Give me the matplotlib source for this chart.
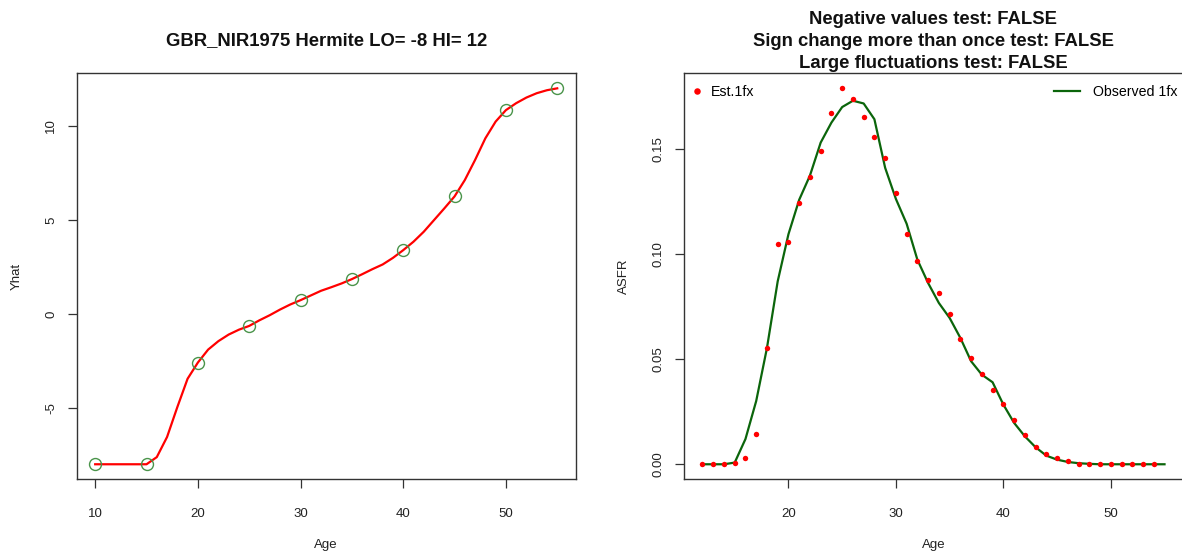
import matplotlib
matplotlib.use("Agg")
import matplotlib.pyplot as plt

plt.rcParams["font.family"] = ["Liberation Sans", "DejaVu Sans"]
plt.rcParams["axes.unicode_minus"] = False

# ---- Left panel: Hermite fit of Yhat over age ----
knot_age = [10, 15, 20, 25, 30, 35, 40, 45, 50, 55]
knot_yhat = [-8.0, -8.0, -2.59, -0.64, 0.73, 1.85, 3.39, 6.25, 10.84, 12.0]

curve_age = list(range(10, 56))
curve_yhat = [-8.0, -8.0, -8.0, -8.0, -8.0, -8.0, -7.62, -6.55, -4.96, -3.45,
              -2.59, -1.90, -1.45, -1.10, -0.84, -0.64, -0.34, -0.07, 0.23, 0.50,
              0.73, 0.98, 1.23, 1.42, 1.62, 1.85, 2.11, 2.38, 2.63, 2.98,
              3.39, 3.84, 4.37, 4.99, 5.61, 6.25, 7.12, 8.19, 9.34, 10.23,
              10.84, 11.21, 11.51, 11.74, 11.90, 12.0]

# ---- Right panel: ASFR, estimated points vs observed line ----
est_age = list(range(12, 55))
est_1fx = [0.0, 0.0, 0.0, 0.0006, 0.0030, 0.0146, 0.0553, 0.1046, 0.1057, 0.1243,
           0.1368, 0.1492, 0.1672, 0.1788, 0.1738, 0.1654, 0.1557, 0.1456, 0.1290, 0.1097,
           0.0965, 0.0877, 0.0815, 0.0715, 0.0594, 0.0506, 0.0430, 0.0355, 0.0285, 0.0212,
           0.0141, 0.0084, 0.0049, 0.0031, 0.0014, 0.0002, 0.0003, 0.0, 0.0, 0.0,
           0.0, 0.0, 0.0]

obs_age = list(range(12, 56))
obs_1fx = [0.0, 0.0, 0.0, 0.0008, 0.0120, 0.0301, 0.0553, 0.0870, 0.1094, 0.1258,
           0.1373, 0.1530, 0.1625, 0.1699, 0.1729, 0.1716, 0.1641, 0.1410, 0.1262, 0.1144,
           0.0973, 0.0862, 0.0767, 0.0696, 0.0601, 0.0490, 0.0426, 0.0390, 0.0284, 0.0197,
           0.0133, 0.0081, 0.0041, 0.0022, 0.0011, 0.0005, 0.0002, 0.0, 0.0, 0.0,
           0.0, 0.0, 0.0, 0.0]

left_title = "GBR_NIR1975 Hermite LO= -8 HI= 12"
right_title = ("Negative values test: FALSE\n"
               "Sign change more than once test: FALSE\n"
               "Large fluctuations test: FALSE")

W, H = 1182, 553
fig = plt.figure(figsize=(W / 100, H / 100), dpi=100)


def px_box(x0, x1, y0, y1):
    return [x0 / W, 1 - y1 / H, (x1 - x0) / W, (y1 - y0) / H]


def r_lim(values):
    lo, hi = min(values), max(values)
    pad = 0.04 * (hi - lo)
    return lo - pad, hi + pad


def style_axes(ax):
    for sp in ax.spines.values():
        sp.set_color("#333333")
        sp.set_linewidth(1.0)
    ax.tick_params(direction="out", length=6.5, width=0.9, color="#333333",
                   labelsize=9.5, labelcolor="#222222")
    ax.tick_params(axis="x", pad=14)
    ax.tick_params(axis="y", pad=7.5, labelrotation=90)
    for lbl in ax.get_yticklabels():
        lbl.set_va("center")


AX_TOP, AX_BOT = 73.3, 479.3
AX_H = AX_BOT - AX_TOP
AX2_L = 684
ax1 = fig.add_axes(px_box(76.7, 575.7, AX_TOP, AX_BOT))
ax2 = fig.add_axes(px_box(AX2_L, 1183, AX_TOP, AX_BOT))

# left
ax1.plot(curve_age, curve_yhat, color="#ff0000", lw=1.6, zorder=2)
ax1.plot(knot_age, knot_yhat, "o", mfc="none", mec="#4a944a", ms=8.6, mew=1.0, zorder=3)
ax1.set_xlim(*r_lim(curve_age))
ax1.set_ylim(*r_lim(curve_yhat))
ax1.set_xticks([10, 20, 30, 40, 50])
ax1.set_yticks([-5, 0, 5, 10])
style_axes(ax1)
ax1.set_xlabel("Age", fontsize=9.5, color="#222222")
ax1.set_ylabel("Yhat", fontsize=9.5, color="#222222")
ax1.xaxis.set_label_coords(0.5, -0.147)
ax1.yaxis.set_label_coords(-0.108, 0.5)
ax1.set_title(left_title, fontsize=13.3, fontweight="bold", pad=20, color="#111111")

# right
obs_line, = ax2.plot(obs_age, obs_1fx, color="#0b650b", lw=1.6, zorder=2,
                     label="Observed 1fx")
est_pts, = ax2.plot(est_age, est_1fx, "o", color="#ff0000", ms=3.9, mew=0, zorder=3,
                    label="Est.1fx")
ax2.set_xlim(*r_lim(obs_age + est_age))
ax2.set_ylim(*r_lim(obs_1fx + est_1fx))
ax2.set_xticks([20, 30, 40, 50])
ax2.set_yticks([0.0, 0.05, 0.10, 0.15])
ax2.set_yticklabels(["0.00", "0.05", "0.10", "0.15"])
style_axes(ax2)
ax2.set_xlabel("Age", fontsize=9.5, color="#222222")
ax2.set_ylabel("ASFR", fontsize=9.5, color="#222222")
ax2.xaxis.set_label_coords(0.5, -0.147)
ax2.yaxis.set_label_coords(-0.108, 0.5)
ax2.set_title(right_title, fontsize=13.3, fontweight="bold", pad=4, linespacing=1.38,
              color="#111111")

leg_fs = 10.2
leg_y = 1 - 6 / AX_H
leg1 = ax2.legend(handles=[est_pts], loc="upper left", frameon=False, fontsize=leg_fs,
                  handlelength=0.7, handletextpad=0.63, borderaxespad=0,
                  markerscale=1.2, bbox_to_anchor=(2.3 / 499, leg_y))
ax2.add_artist(leg1)
ax2.legend(handles=[obs_line], loc="upper right", frameon=False, fontsize=leg_fs,
           handlelength=1.9, handletextpad=0.85, borderaxespad=0,
           bbox_to_anchor=(0.9994, leg_y))

fig.savefig("out.png", dpi=100)
